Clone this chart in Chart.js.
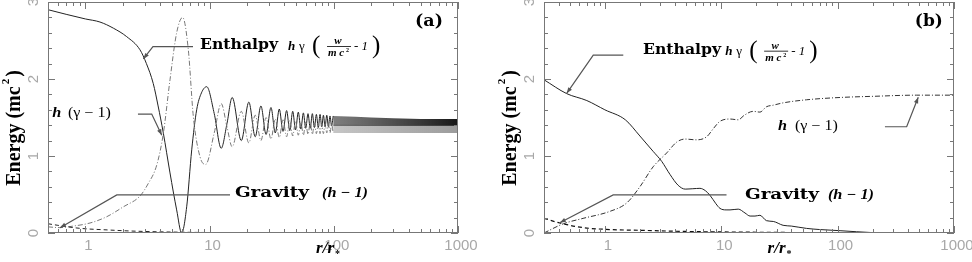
<!DOCTYPE html>
<html>
<head>
<meta charset="utf-8">
<script src="https://cdn.jsdelivr.net/npm/chart.js@4.4.1/dist/chart.umd.min.js"></script>
<style>
  html, body { margin: 0; padding: 0; background: #fff; }
  #wrap { position: relative; width: 972px; height: 262px; }
  canvas { position: absolute; top: 0; }
</style>
</head>
<body>
<div id="wrap">
  <canvas id="chartA" width="486" height="262" style="left:0"></canvas>
  <canvas id="chartB" width="486" height="262" style="left:486px"></canvas>
</div>
<script>
// ---- panel (a) ----
const enthalpyA_r = [0.5, 0.7, 1.0, 1.31, 1.68, 2.15, 2.75, 3.1, 3.52, 3.85,
  4.24, 4.80, 5.43, 5.96, 6.54, 7.18, 7.87, 8.6, 9.48, 10.9,
  12.4, 13.8, 15.2, 18.0, 20.7, 23.3, 25.9, 28.5, 31.2, 33.8,
  36.4, 39.0, 41.7, 44.2, 46.7, 49.2, 51.8, 54.3, 56.9, 59.4,
  62.0, 64.6, 67.2, 69.8, 72.4, 75.0, 77.5, 80.0, 82.5, 85.1,
  87.8, 90.5, 93.2, 96.0, 98.9];
const enthalpyA = [2.90, 2.84, 2.78, 2.74, 2.66, 2.55, 2.38, 2.20, 1.94, 1.65,
  1.30, 0.78, 0.30, 0.0, 0.34, 1.08, 1.60, 1.82, 1.90, 1.55,
  1.10, 1.42, 1.76, 1.20, 1.70, 1.25, 1.65, 1.28, 1.63, 1.30,
  1.61, 1.32, 1.59, 1.33, 1.58, 1.34, 1.57, 1.35, 1.56, 1.36,
  1.55, 1.36, 1.55, 1.37, 1.54, 1.37, 1.54, 1.38, 1.53, 1.38,
  1.53, 1.38, 1.52, 1.39, 1.52];

const heatA_r = [0.5, 0.62, 0.8, 1.09, 1.48, 2.02, 2.75, 3.2, 3.75, 4.24,
  4.80, 5.43, 6.07, 6.74, 7.40, 8.37, 9.3, 10.9, 12.4, 13.8,
  15.2, 18.0, 20.7, 23.3, 25.9, 28.5, 31.2, 33.8, 36.4, 39.0,
  41.7, 44.2, 46.7, 49.2, 51.8, 54.3, 56.9, 59.4, 62.0, 64.6,
  67.2, 69.8, 72.4, 75.0, 77.5, 80.0, 82.5, 85.1, 87.8, 90.5,
  93.2, 96.0, 98.9];
const heatA = [0.08, 0.07, 0.09, 0.13, 0.21, 0.34, 0.48, 0.64, 0.88, 1.29,
  1.99, 2.60, 2.80, 2.38, 1.51, 0.99, 0.89, 1.30, 1.68, 1.38,
  1.12, 1.58, 1.17, 1.53, 1.20, 1.50, 1.22, 1.48, 1.24, 1.47,
  1.25, 1.46, 1.26, 1.45, 1.27, 1.44, 1.27, 1.44, 1.28, 1.43,
  1.28, 1.43, 1.29, 1.42, 1.29, 1.42, 1.29, 1.42, 1.30, 1.41,
  1.30, 1.41, 1.30];

const gravityA_r = [0.5, 0.6, 0.8, 1, 1.5, 2, 3, 5, 10, 30, 100, 1000];
const gravityA = [0.12, 0.10, 0.07, 0.055, 0.04, 0.03, 0.02, 0.012, 0.006, 0.003, 0.001, 0];

// past r ~ 100 the oscillations are too dense to resolve: they merge into bands
const bandA_r = [98.9, 150, 200, 300, 500, 1000];
const enthBandTopA = [1.52, 1.51, 1.50, 1.49, 1.48, 1.48];
const enthBandBotA = [1.39, 1.39, 1.39, 1.39, 1.39, 1.39];
const heatBandTopA = [1.41, 1.41, 1.40, 1.40, 1.40, 1.40];
const heatBandBotA = [1.30, 1.30, 1.30, 1.30, 1.30, 1.30];

// ---- panel (b) ----
const enthalpyB_r = [0.3, 0.47, 0.7, 1.0, 1.5, 2.0, 2.6, 3.08, 3.63, 4.26,
  4.9, 5.7, 6.56, 7.3, 8.0, 9.0, 9.75, 11.0, 11.9, 14.0,
  16.0, 17.7, 19.5, 21.5, 24.5, 28, 34, 40, 54, 70,
  105, 200, 300, 1000];
const enthalpyB = [1.99, 1.81, 1.72, 1.60, 1.47, 1.26, 1.06, 0.93, 0.76, 0.62,
  0.57, 0.575, 0.58, 0.55, 0.49, 0.38, 0.32, 0.30, 0.30, 0.31,
  0.26, 0.22, 0.22, 0.23, 0.16, 0.15, 0.10, 0.09, 0.06, 0.045,
  0.03, 0.005, 0, 0];

const heatB_r = [0.3, 0.44, 0.65, 1.1, 1.54, 2.0, 2.6, 3.4, 4.14, 4.88,
  6.15, 7.5, 8.6, 9.75, 11.9, 14.0, 15.8, 18.8, 21.5, 24.5,
  28, 34, 54, 105, 202, 477, 1000];
const heatB = [0.0, 0.12, 0.19, 0.28, 0.39, 0.60, 0.86, 1.04, 1.18, 1.22,
  1.21, 1.25, 1.36, 1.45, 1.48, 1.47, 1.53, 1.58, 1.57, 1.64,
  1.66, 1.69, 1.73, 1.76, 1.775, 1.79, 1.79];

const gravityB_r = [0.3, 0.41, 0.65, 1.1, 2, 5, 20, 100, 1000];
const gravityB = [0.19, 0.13, 0.07, 0.045, 0.035, 0.02, 0.01, 0.003, 0];

// ticks
const xTickLabels = [1, 10, 100, 1000];
const yTickLabels = [0, 1, 2, 3];

const pts = (xs, ys) => xs.map((x, i) => ({ x: x, y: ys[i] }));

function line(xs, ys, color, dash, width) {
  return {
    data: pts(xs, ys), borderColor: color, borderWidth: width || 1,
    borderDash: dash || [], pointRadius: 0, fill: false,
    cubicInterpolationMode: 'monotone', order: 1
  };
}

// fill that darkens from r=100 to r=1000, like the ever denser oscillations
function bandFill(c0, c1) {
  return context => {
    const chart = context.chart;
    if (!chart.chartArea) return c1;
    const x = chart.scales.x;
    const g = chart.ctx.createLinearGradient(x.getPixelForValue(100), 0, x.getPixelForValue(1000), 0);
    g.addColorStop(0, c0);
    g.addColorStop(1, c1);
    return g;
  };
}

function band(xs, ys, fillColor, fillTo) {
  return {
    data: pts(xs, ys), borderWidth: 0, pointRadius: 0,
    backgroundColor: fillColor, fill: fillTo, tension: 0, order: 2
  };
}

function fitText(ctx, text, x, y, font, width) {
  ctx.font = font;
  const w = ctx.measureText(text).width;
  ctx.save();
  ctx.translate(x, y);
  ctx.scale(width / w, 1);
  ctx.fillText(text, 0, 0);
  ctx.restore();
}

function drawArrow(ctx, p) {
  ctx.beginPath();
  ctx.moveTo(p[0][0], p[0][1]);
  for (let i = 1; i < p.length; i++) ctx.lineTo(p[i][0], p[i][1]);
  ctx.stroke();
  const [x1, y1] = p[p.length - 2], [x2, y2] = p[p.length - 1];
  const a = Math.atan2(y2 - y1, x2 - x1);
  ctx.beginPath();
  ctx.moveTo(x2, y2);
  ctx.lineTo(x2 - 6 * Math.cos(a) + 2.2 * Math.sin(a), y2 - 6 * Math.sin(a) - 2.2 * Math.cos(a));
  ctx.lineTo(x2 - 6 * Math.cos(a) - 2.2 * Math.sin(a), y2 - 6 * Math.sin(a) + 2.2 * Math.cos(a));
  ctx.closePath();
  ctx.fill();
}

// h gamma (w / m c^2 - 1)
function drawMath(ctx, x, y) {
  ctx.textAlign = 'left';
  ctx.textBaseline = 'alphabetic';
  ctx.font = 'bold italic 13px "Liberation Serif"';
  ctx.fillText('h', x, y + 4);
  ctx.font = '13px "Liberation Serif"';
  ctx.fillText('γ', x + 11, y + 4);
  ctx.font = '25px "Liberation Serif"';
  ctx.fillText('(', x + 24, y + 7);
  ctx.font = 'bold italic 11px "Liberation Serif"';
  ctx.textAlign = 'center';
  ctx.fillText('w', x + 50, y - 2);
  ctx.fillRect(x + 39, y, 24, 0.8);
  ctx.textAlign = 'left';
  ctx.fillText('m c', x + 40, y + 10);
  ctx.font = 'bold 6px "Liberation Serif"';
  ctx.fillText('2', x + 58, y + 6);
  ctx.font = 'italic 13px "Liberation Serif"';
  ctx.fillText('- 1', x + 66, y + 4);
  ctx.font = '25px "Liberation Serif"';
  ctx.fillText(')', x + 84, y + 7);
}

function decorPlugin(ann) {
  return {
    id: 'decor',
    afterDraw(chart) {
      const { ctx, chartArea: ca, scales: { x, y } } = chart;
      const X = v => x.getPixelForValue(v);
      const Y = v => y.getPixelForValue(v);
      ctx.save();

      // frame + inward ticks on all four sides
      ctx.strokeStyle = '#777';
      ctx.lineWidth = 1;
      ctx.strokeRect(ca.left + 0.5, ca.top + 0.5, ca.right - ca.left - 1, ca.bottom - ca.top - 1);
      ctx.beginPath();
      for (let d = -1; d <= 3; d++) {
        for (let k = 1; k <= 9; k++) {
          const v = k * Math.pow(10, d);
          if (v < x.min * 0.999 || v > x.max * 1.001) continue;
          const px = Math.round(X(v)) + 0.5;
          const len = k === 1 ? 7 : 4;
          ctx.moveTo(px, ca.bottom); ctx.lineTo(px, ca.bottom - len);
          ctx.moveTo(px, ca.top); ctx.lineTo(px, ca.top + len);
        }
      }
      for (let i = 0; i <= 15; i++) {
        const py = Math.round(Y(i * 0.2)) + 0.5;
        const len = i % 5 === 0 ? 7 : 4;
        ctx.moveTo(ca.left, py); ctx.lineTo(ca.left + len, py);
        ctx.moveTo(ca.right, py); ctx.lineTo(ca.right - len, py);
      }
      ctx.stroke();

      // tick labels
      ctx.fillStyle = '#a8a8a8';
      ctx.font = '15px "Liberation Sans"';
      ctx.textAlign = 'center';
      ctx.textBaseline = 'middle';
      xTickLabels.forEach(t => ctx.fillText(String(t), X(t) + 3, 246));
      yTickLabels.forEach(t => {
        ctx.save();
        ctx.translate(ca.left - 14, Y(t));
        ctx.rotate(-Math.PI / 2);
        ctx.fillText(String(t), 0, 0);
        ctx.restore();
      });

      // axis titles
      ctx.fillStyle = '#000';
      ctx.save();
      ctx.translate(ca.left - 33, 128);
      ctx.rotate(-Math.PI / 2);
      ctx.font = 'bold 20px "Liberation Serif"';
      const t1 = 'Energy (mc', t2 = ')';
      const w1 = ctx.measureText(t1).width, w2 = ctx.measureText(t2).width;
      ctx.font = 'bold 11px "Liberation Serif"';
      const ws = ctx.measureText('2').width + 4;
      const sx = -(w1 + ws + w2) / 2;
      ctx.textAlign = 'left';
      ctx.font = 'bold 20px "Liberation Serif"';
      ctx.fillText(t1, sx, 0);
      ctx.font = 'bold 11px "Liberation Serif"';
      ctx.fillText('2', sx + w1 + 2, -9);
      ctx.font = 'bold 20px "Liberation Serif"';
      ctx.fillText(t2, sx + w1 + ws, 0);
      ctx.restore();

      ctx.textAlign = 'left';
      ctx.font = 'bold italic 17px "Liberation Serif"';
      const xt = X(ann.xTitle);
      ctx.fillText('r/r', xt, 249);
      const wr = ctx.measureText('r/r').width;
      ctx.font = 'bold 10px "Liberation Serif"';
      ctx.fillText('*', xt + wr + 1, 254);

      // annotation arrows
      ctx.strokeStyle = '#555';
      ctx.fillStyle = '#555';
      ctx.lineWidth = 1.2;
      ann.arrows.forEach(a => drawArrow(ctx, a.map(p => [X(p[0]), Y(p[1])])));

      // annotation text
      ctx.fillStyle = '#000';
      ctx.textAlign = 'left';
      ctx.textBaseline = 'middle';
      const e = ann.enthalpy;
      fitText(ctx, 'Enthalpy', X(e[0]), Y(e[1]), 'bold 15px "DejaVu Serif"', 78);
      drawMath(ctx, X(e[2]), Y(e[1]) + 1);
      ctx.textBaseline = 'middle';
      const g = ann.gravity;
      fitText(ctx, 'Gravity', X(g[0]), Y(g[1]), 'bold 15px "DejaVu Serif"', 74);
      fitText(ctx, '(h − 1)', X(g[2]), Y(g[1]), 'bold italic 14px "Liberation Serif"', 46);
      const h = ann.heat;
      fitText(ctx, 'h', X(h[0]), Y(h[1]), 'bold italic 15px "Liberation Serif"', 9);
      fitText(ctx, '(γ − 1)', X(h[2]), Y(h[1]), '14px "Liberation Serif"', 43);
      fitText(ctx, ann.tag, X(ann.tagPos[0]), Y(ann.tagPos[1]), 'bold 16px "DejaVu Serif"', 28);
      ctx.restore();
    }
  };
}

function makePanel(id, xMin, yWidth, padRight, datasets, ann) {
  return new Chart(document.getElementById(id), {
    type: 'line',
    data: { datasets: datasets },
    options: {
      responsive: false,
      animation: false,
      devicePixelRatio: 1,
      layout: { padding: { top: 2, right: padRight, left: 0, bottom: 0 } },
      plugins: { legend: { display: false }, tooltip: { enabled: false } },
      scales: {
        x: {
          type: 'logarithmic', min: xMin, max: 1000,
          grid: { display: false }, border: { display: false },
          ticks: { display: false },
          afterFit: s => { s.height = 29; }
        },
        y: {
          min: 0, max: 3,
          grid: { display: false }, border: { display: false },
          ticks: { display: false },
          afterFit: s => { s.width = yWidth; }
        }
      }
    },
    plugins: [decorPlugin(ann)]
  });
}

const heatBandFill = bandFill('rgba(90,90,90,0.35)', 'rgba(90,90,90,0.6)');
const enthBandFill = bandFill('rgba(40,40,40,0.6)', 'rgba(10,10,10,0.95)');

makePanel('chartA', 0.5, 48, 28, [
  band(bandA_r, heatBandTopA, heatBandFill, '+1'),
  band(bandA_r, heatBandBotA, heatBandFill, false),
  band(bandA_r, enthBandTopA, enthBandFill, '+1'),
  band(bandA_r, enthBandBotA, enthBandFill, false),
  line(gravityA_r, gravityA, '#222', [4, 3], 1),
  line(heatA_r, heatA, '#777', [5, 2, 1, 2], 1),
  line(enthalpyA_r, enthalpyA, '#222', [], 1)
], {
  xTitle: 72,
  enthalpy: [8.37, 2.44, 42.8],
  gravity: [16.0, 0.52, 80.4],
  heat: [0.54, 1.56, 0.724],
  tag: '(a)', tagPos: [451, 2.74],
  arrows: [
    [[7.35, 2.42], [3.50, 2.42], [2.93, 2.26]],
    [[2.65, 1.545], [3.42, 1.545], [4.12, 1.27]],
    [[14.6, 0.494], [1.79, 0.494], [0.625, 0.069]]
  ]
});

makePanel('chartB', 0.3, 58, 18, [
  line(gravityB_r, gravityB, '#111', [4, 3], 1.2),
  line(heatB_r, heatB, '#333', [5, 2, 1, 2], 1),
  line(enthalpyB_r, enthalpyB, '#222', [], 1)
], {
  xTitle: 25,
  enthalpy: [2.13, 2.38, 10.8],
  gravity: [16.0, 0.494, 82.6],
  heat: [30.7, 1.39, 43],
  tag: '(b)', tagPos: [461, 2.74],
  arrows: [
    [[1.44, 2.31], [0.795, 2.31], [0.47, 1.814]],
    [[255, 1.38], [392, 1.38], [493, 1.762]],
    [[11.1, 0.494], [1.18, 0.494], [0.41, 0.134]]
  ]
});
</script>
</body>
</html>
